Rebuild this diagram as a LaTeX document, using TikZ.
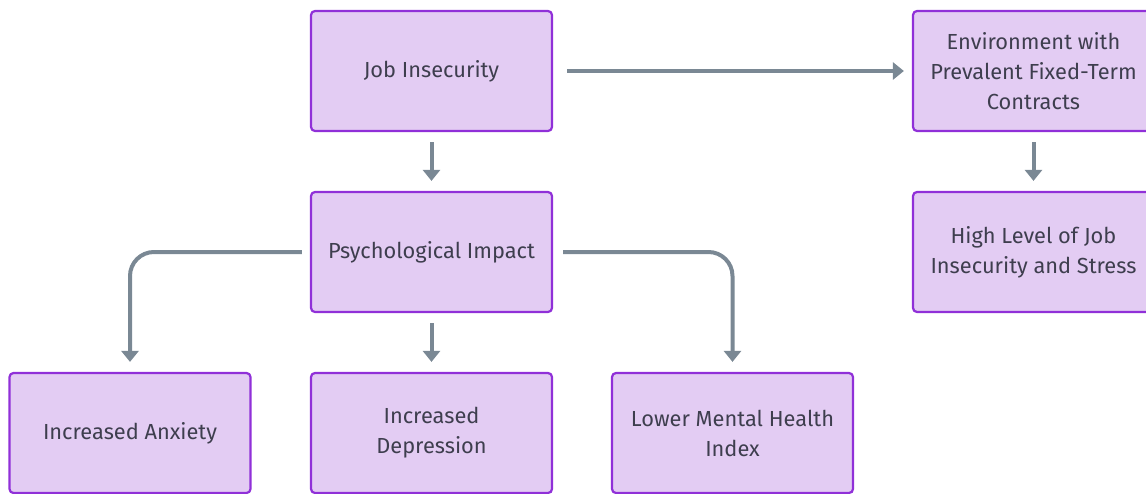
\documentclass[tikz,border=0pt]{standalone}
\usepackage{fontspec}
\setmainfont{Fira Sans}
\usetikzlibrary{arrows.meta}
\definecolor{boxfill}{HTML}{E3CCF3}
\definecolor{boxline}{HTML}{9030D8}
\definecolor{arrowgray}{HTML}{7A8894}
\definecolor{textgray}{HTML}{3E3E4E}
\begin{document}
\begin{tikzpicture}
[
    x=0.5pt, y=-0.5pt,
    box/.style={draw=boxline, fill=boxfill, line width=1.1pt, rounded corners=2pt,
        minimum width=120.5pt, minimum height=60pt, align=center,
        text=textgray, font=\fontsize{10.9}{15}\selectfont},
    link/.style={draw=arrowgray, line width=2pt, rounded corners=12pt,
        -{Triangle[length=5.5pt, width=8.5pt]}}
]
    \useasboundingbox (0,0) rectangle (1146,493);

    \node [box] (insecurity) at (431.5,71) {Job Insecurity};
    \node [box] (environment) at (1033.5,71) {Environment with\\Prevalent Fixed-Term\\Contracts};
    \node [box] (impact) at (431.5,252) {Psychological Impact};
    \node [box] (stress) at (1033.5,252) {High Level of Job\\Insecurity and Stress};
    \node [box] (anxiety) at (130,433) {Increased Anxiety};
    \node [box] (depression) at (431.5,433) {Increased\\Depression};
    \node [box] (mental) at (732.5,433) {Lower Mental Health\\Index};

    % connectors
    \draw [link, shorten <=7pt, shorten >=4pt] (insecurity.east) -- (environment.west);
    \draw [link, shorten <=5pt, shorten >=5pt] (insecurity.south) -- (impact.north);
    \draw [link, shorten <=5pt, shorten >=5pt] (environment.south) -- (stress.north);
    \draw [link, shorten <=5pt, shorten >=5pt] (impact.south) -- (depression.north);
    \draw [link, shorten <=4pt, shorten >=5pt] (impact.west) -| (anxiety.north);
    \draw [link, shorten <=5pt, shorten >=5pt] (impact.east) -| (mental.north);
\end{tikzpicture}
\end{document}
